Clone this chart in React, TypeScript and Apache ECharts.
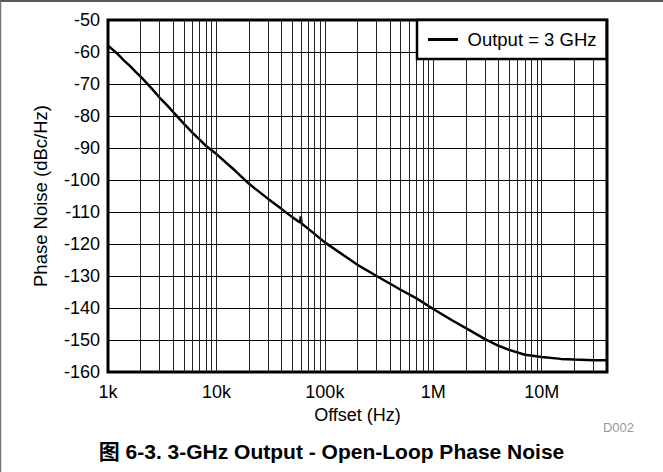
import React, { useEffect, useRef } from "react";
import * as echarts from "echarts";

const freqHz = [
  1000, 1200, 1400, 1600, 1800, 2000, 2500, 3000, 3500, 4000, 5000, 6000, 7000, 8000,
  10000, 15000, 20000, 30000, 40000, 50000, 59000, 60000, 61000, 70000, 100000, 150000,
  200000, 300000, 500000, 700000, 1000000, 1500000, 2000000, 3000000, 4000000, 5000000,
  7000000, 10000000, 15000000, 20000000, 30000000, 40000000,
];
const phaseNoise = [
  -58, -60.3, -62.6, -64.4, -66.2, -67.7, -71.2, -74.3, -76.6, -78.8, -82.4, -85.2, -87.4, -89.3,
  -91.9, -97.2, -101.2, -105.9, -109.1, -111.6, -113.3, -111.4, -113.6, -115.2, -119.5, -123.6,
  -126.5, -130, -134.3, -137, -140.3, -143.9, -146.3, -149.7, -151.8, -153.1,
  -154.6, -155.3, -155.9, -156.1, -156.3, -156.3,
];
const xMajorTicks = [1000, 10000, 100000, 1000000, 10000000];
const xTickLabels = ["1k", "10k", "100k", "1M", "10M"];
const xMinorGrid = [
  2000, 3000, 4000, 5000, 6000, 7000, 8000, 9000,
  20000, 30000, 40000, 50000, 60000, 70000, 80000, 90000,
  200000, 300000, 400000, 500000, 600000, 700000, 800000, 900000,
  2000000, 3000000, 4000000, 5000000, 6000000, 7000000, 8000000, 9000000,
  20000000, 30000000,
];
const seriesName = "Output = 3 GHz";

export default function App() {
  const ref = useRef<HTMLDivElement>(null);
  useEffect(() => {
    if (!ref.current) return;
    const chart = echarts.init(ref.current, null, { renderer: "svg" });
    const font = "'Liberation Sans', Arial, sans-serif";
    const gridLines = [...xMajorTicks.slice(1), ...xMinorGrid].map((v) => ({ xAxis: v }));
    chart.setOption({
      animation: false,
      backgroundColor: "#fff",
      textStyle: { fontFamily: font },
      grid: {
        left: 108,
        right: 56,
        top: 20,
        bottom: 100,
        show: true,
        borderColor: "#000",
        borderWidth: 3,
        backgroundColor: "transparent",
        z: 5,
      },
      title: {
        text: "图 6-3. 3-GHz Output - Open-Loop Phase Noise",
        left: "center",
        top: 436,
        textStyle: {
          fontSize: 21,
          fontWeight: "bold",
          color: "#000",
          fontFamily: "'Liberation Sans', 'Noto Sans CJK SC', Arial, sans-serif",
        },
      },
      legend: {
        data: [{ name: seriesName, icon: "path://M0,0 L10,0 L10,1 L0,1 Z" }],
        left: 417,
        top: 20,
        padding: [10, 10, 10, 11],
        borderColor: "#000",
        borderWidth: 2.5,
        backgroundColor: "#fff",
        itemWidth: 35,
        itemHeight: 3,
        itemGap: 0,
        textStyle: { fontSize: 18.5, color: "#000", fontFamily: font, padding: [0, 0, 0, 2] },
        z: 10,
      },
      xAxis: {
        type: "log",
        logBase: 10,
        min: 1000,
        max: 40000000,
        name: "Offset (Hz)",
        nameLocation: "middle",
        nameGap: 33,
        nameTextStyle: { fontSize: 18, color: "#000", fontFamily: font },
        axisLine: { show: false },
        axisTick: { show: false },
        splitLine: { show: false },
        axisLabel: {
          fontSize: 18,
          color: "#000",
          margin: 11,
          fontFamily: font,
          showMaxLabel: false,
          formatter: (v: number) => {
            const i = xMajorTicks.findIndex((t) => Math.abs(t - v) / t < 1e-6);
            return i >= 0 ? xTickLabels[i] : "";
          },
        },
      },
      yAxis: {
        type: "value",
        min: -160,
        max: -50,
        interval: 10,
        name: "Phase Noise (dBc/Hz)",
        nameLocation: "middle",
        nameGap: 58,
        nameTextStyle: { fontSize: 18.5, color: "#000", fontFamily: font },
        axisLine: { show: false },
        axisTick: { show: false },
        axisLabel: { fontSize: 18, color: "#000", margin: 8, fontFamily: font },
        splitLine: { show: true, lineStyle: { color: "#000", width: 1 } },
      },
      series: [
        {
          name: "vgrid",
          type: "line",
          data: [],
          silent: true,
          z: 1,
          markLine: {
            silent: true,
            symbol: ["none", "none"],
            label: { show: false },
            lineStyle: { color: "#222", width: 1, type: "solid" },
            emphasis: { disabled: true },
            data: gridLines,
          },
        },
        {
          name: seriesName,
          type: "line",
          data: freqHz.map((f, i) => [f, phaseNoise[i]]),
          showSymbol: false,
          symbol: "none",
          smooth: false,
          z: 3,
          lineStyle: { color: "#000", width: 2.5 },
          itemStyle: { color: "#000" },
        },
      ],
      graphic: [
        {
          type: "line",
          shape: { x1: 0, y1: 1, x2: 663, y2: 1 },
          style: { stroke: "#222", lineWidth: 1.5 },
        },
        {
          type: "line",
          shape: { x1: 0.5, y1: 1, x2: 0.5, y2: 472 },
          style: { stroke: "#777", lineWidth: 1.5 },
        },
        {
          type: "text",
          x: 634,
          y: 427,
          style: {
            text: "D002",
            fill: "#999",
            fontSize: 13,
            fontFamily: font,
            textAlign: "right",
            textVerticalAlign: "middle",
          },
        },
      ],
    });
    return () => chart.dispose();
  }, []);
  return (
    <div
      ref={ref}
      style={{ position: "fixed", left: 0, top: 0, width: 663, height: 472 }}
    />
  );
}
